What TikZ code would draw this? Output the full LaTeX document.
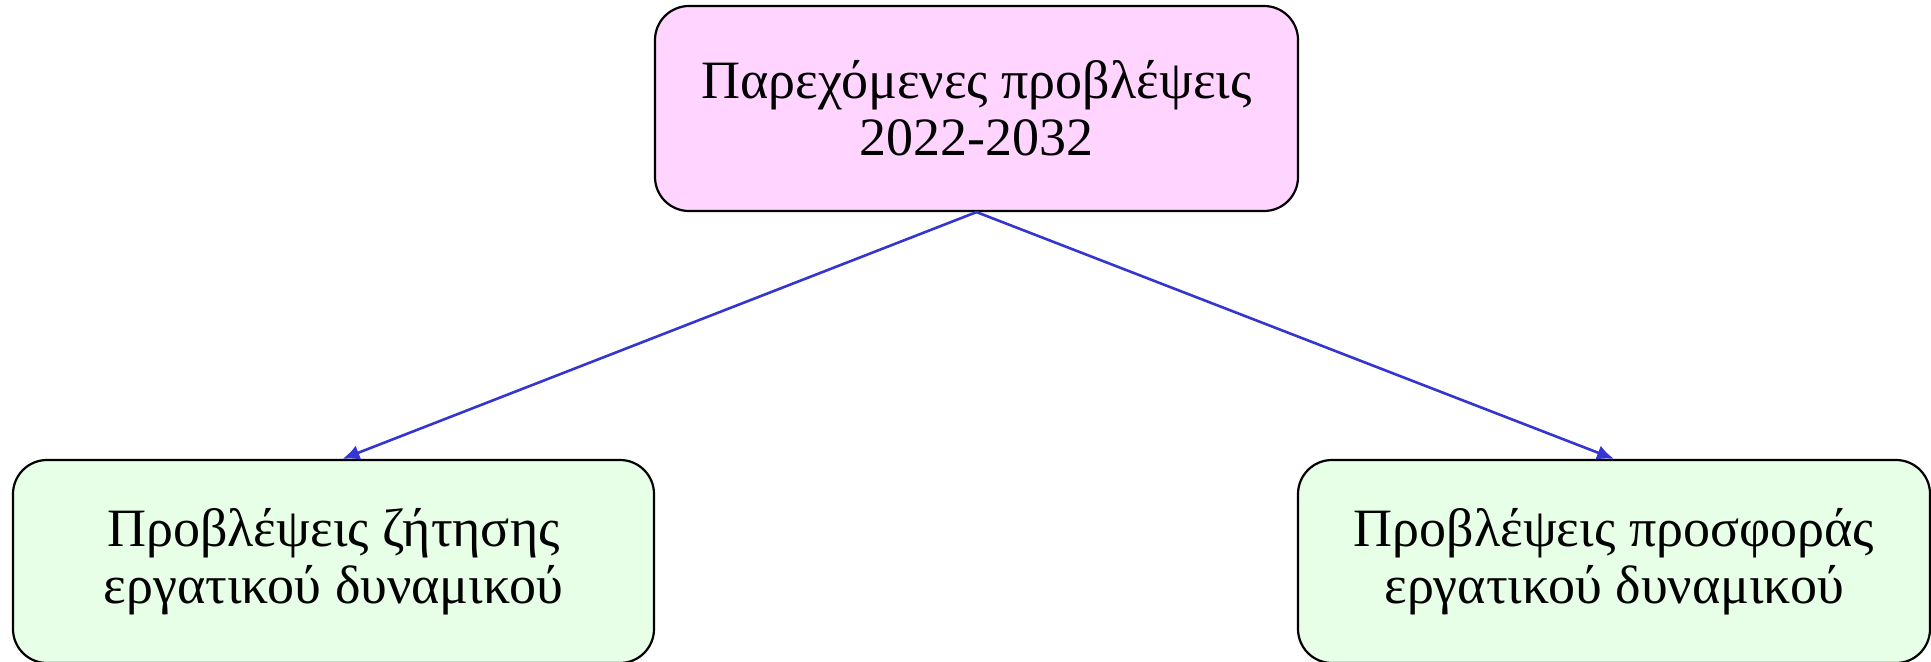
\documentclass[tikz,border=0pt]{standalone}
\usepackage{fontspec}
\setmainfont{Liberation Serif}
\usetikzlibrary{arrows.meta}
\definecolor{pinkfill}{HTML}{FFD5FF}
\definecolor{greenfill}{HTML}{E6FFE6}
\definecolor{arrowblue}{HTML}{3535D0}
\tikzset{
  box/.style={draw=black, line width=1.1pt, rounded corners=17pt, align=center,
    inner sep=0pt, font=\fontsize{27pt}{28.5pt}\selectfont},
  conn/.style={draw=arrowblue, line width=1.3pt, -{Latex[length=8.5pt,width=7.5pt]}}
}
\begin{document}
\begin{tikzpicture}[x=0.5pt, y=-0.5pt]
\useasboundingbox (0,0) rectangle (1931,662);
\node[box, fill=pinkfill, minimum width=321.5pt, minimum height=102.5pt] (top) at (976.5,108.5)
  {Παρεχόμενες προβλέψεις\\2022-2032};
\node[box, fill=greenfill, minimum width=320.5pt, minimum height=101.5pt] (left) at (333.5,561.5)
  {Προβλέψεις ζήτησης\\εργατικού δυναμικού};
\node[box, fill=greenfill, minimum width=316pt, minimum height=101.5pt] (right) at (1614,561.5)
  {Προβλέψεις προσφοράς\\εργατικού δυναμικού};
\draw[conn] (top.south) -- ([xshift=4.5pt]left.north);
\draw[conn] (top.south) -- (right.north);
\end{tikzpicture}
\end{document}
